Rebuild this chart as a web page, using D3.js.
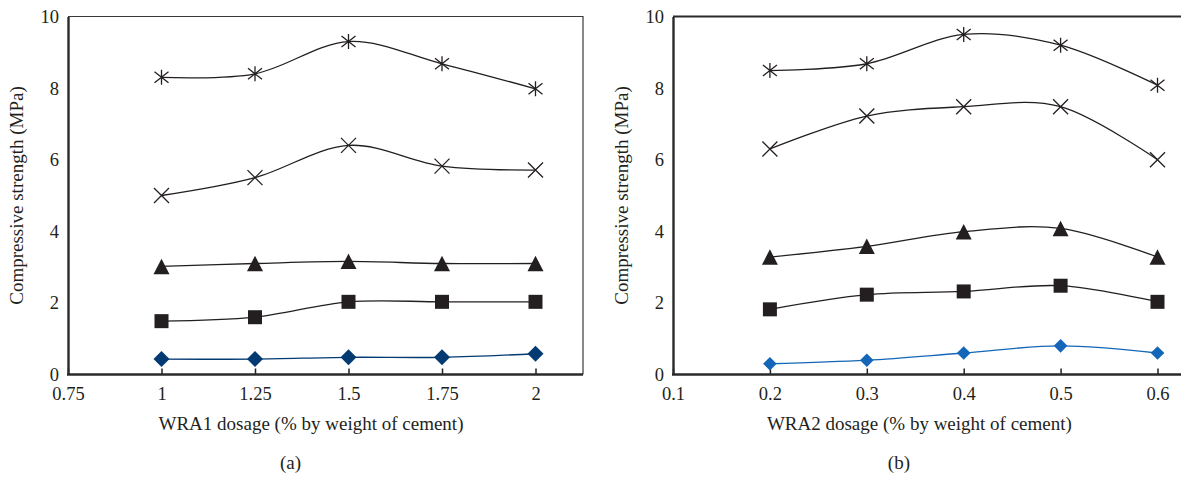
<!DOCTYPE html>
<html>
<head>
<meta charset="utf-8">
<script src="https://cdn.jsdelivr.net/npm/d3@7"></script>
<style>
  html, body { margin: 0; padding: 0; background: #fff; }
  svg text { font-family: "Liberation Serif", "Times New Roman", serif; fill: #231f20; }
</style>
</head>
<body>
<svg id="chart" width="1181" height="477"></svg>
<script>
// Dosage levels for each admixture
const dosageWRA1 = [1, 1.25, 1.5, 1.75, 2];
const dosageWRA2 = [0.2, 0.3, 0.4, 0.5, 0.6];

// Compressive strength (MPa), WRA1
const wra1Star     = [8.3, 8.4, 9.3, 8.68, 7.98];
const wra1Cross    = [5.0, 5.5, 6.4, 5.82, 5.71];
const wra1Triangle = [3.02, 3.1, 3.16, 3.1, 3.1];
const wra1Square   = [1.49, 1.6, 2.03, 2.03, 2.03];
const wra1Diamond  = [0.43, 0.43, 0.48, 0.48, 0.58];

// Compressive strength (MPa), WRA2
const wra2Star     = [8.49, 8.68, 9.5, 9.2, 8.08];
const wra2Cross    = [6.3, 7.22, 7.48, 7.48, 6.0];
const wra2Triangle = [3.28, 3.58, 3.99, 4.08, 3.28];
const wra2Square   = [1.82, 2.23, 2.32, 2.48, 2.03];
const wra2Diamond  = [0.3, 0.4, 0.6, 0.8, 0.6];

// Tick labels
const xTicksWRA1 = [0.75, 1, 1.25, 1.5, 1.75, 2];
const xTicksWRA2 = [0.1, 0.2, 0.3, 0.4, 0.5, 0.6];
const yTicks = [0, 2, 4, 6, 8, 10];

const svg = d3.select("#chart");
const ink = "#231f20";
const FONT = '"Liberation Serif", "Times New Roman", serif';

const panels = [
  {
    label: "(a)",
    xTitle: "WRA1 dosage (% by weight of cement)",
    xs: dosageWRA1,
    xDomain: [0.75, 2.127],
    xRange: [68, 583],
    xTicks: xTicksWRA1,
    yTitleX: 16,
    frame: "box",
    diamondR: 8,
    series: [
      { values: wra1Star, marker: "star", color: ink },
      { values: wra1Cross, marker: "cross", color: ink },
      { values: wra1Triangle, marker: "triangle", color: ink },
      { values: wra1Square, marker: "square", color: ink },
      { values: wra1Diamond, marker: "diamond", color: "#033a72" }
    ]
  },
  {
    label: "(b)",
    xTitle: "WRA2 dosage (% by weight of cement)",
    xs: dosageWRA2,
    xDomain: [0.1, 0.63],
    xRange: [673, 673 + 0.53 * 969],
    xTicks: xTicksWRA2,
    yTitleX: 621,
    frame: "top",
    diamondR: 6.8,
    series: [
      { values: wra2Star, marker: "star", color: ink },
      { values: wra2Cross, marker: "cross", color: ink },
      { values: wra2Triangle, marker: "triangle", color: ink },
      { values: wra2Square, marker: "square", color: ink },
      { values: wra2Diamond, marker: "diamond", color: "#1467b8" }
    ]
  }
];

const y = d3.scaleLinear().domain([0, 10]).range([374.5, 16.5]);

function drawMarker(g, kind, cx, cy, color, diamondR) {
  if (kind === "star") {
    const r = 7.5;
    const dx = 7, dy = 5.5;
    g.append("path")
      .attr("d", `M${cx},${cy - r}L${cx},${cy + r}M${cx - dx},${cy - dy}L${cx + dx},${cy + dy}M${cx - dx},${cy + dy}L${cx + dx},${cy - dy}`)
      .attr("stroke", color).attr("stroke-width", 1.3).attr("fill", "none");
  } else if (kind === "cross") {
    const r = 7.5;
    g.append("path")
      .attr("d", `M${cx - r},${cy - r}L${cx + r},${cy + r}M${cx - r},${cy + r}L${cx + r},${cy - r}`)
      .attr("stroke", color).attr("stroke-width", 1.3).attr("fill", "none");
  } else if (kind === "triangle") {
    const w = 8, h = 15.5;
    g.append("path")
      .attr("d", `M${cx},${cy - h / 2}L${cx + w},${cy + h / 2}L${cx - w},${cy + h / 2}Z`)
      .attr("fill", color);
  } else if (kind === "square") {
    const s = 14;
    g.append("rect")
      .attr("x", cx - s / 2).attr("y", cy - s / 2)
      .attr("width", s).attr("height", s)
      .attr("fill", color);
  } else if (kind === "diamond") {
    const r = diamondR;
    g.append("path")
      .attr("d", `M${cx},${cy - r}L${cx + r},${cy}L${cx},${cy + r}L${cx - r},${cy}Z`)
      .attr("fill", color);
  }
}

panels.forEach(p => {
  const x = d3.scaleLinear().domain(p.xDomain).range(p.xRange);
  const g = svg.append("g");

  // Frame lines
  if (p.frame === "box") {
    g.append("path")
      .attr("d", `M${p.xRange[0]},${y(10)}H${p.xRange[1]}V${y(0)}`)
      .attr("fill", "none").attr("stroke", "#3a3a3a").attr("stroke-width", 1.2);
  } else {
    g.append("line")
      .attr("x1", p.xRange[0]).attr("x2", p.xRange[1])
      .attr("y1", y(10)).attr("y2", y(10))
      .attr("stroke", "#2a2a2a").attr("stroke-width", 2);
  }

  // Smoothed series lines
  const line = d3.line()
    .x((d, i) => x(p.xs[i]))
    .y(d => y(d))
    .curve(d3.curveCardinal.tension(0));

  p.series.forEach(s => {
    g.append("path")
      .datum(s.values)
      .attr("d", line)
      .attr("fill", "none")
      .attr("stroke", s.color)
      .attr("stroke-width", 1.3);
  });

  // X axis with inward ticks
  const xAxis = d3.axisBottom(x)
    .tickValues(p.xTicks)
    .tickFormat(d => String(d))
    .tickSizeInner(-6)
    .tickSizeOuter(0)
    .tickPadding(12);
  const xg = g.append("g").attr("transform", `translate(0,${y(0)})`).call(xAxis);
  xg.select(".domain").remove();
  xg.selectAll(".tick line").attr("stroke", ink).attr("stroke-width", 1.5);
  xg.selectAll("text").attr("font-size", 18.5).attr("fill", ink).style("font-family", FONT);

  g.append("line")
    .attr("x1", p.xRange[0] - 1).attr("x2", p.xRange[1])
    .attr("y1", y(0)).attr("y2", y(0))
    .attr("stroke", "#2a2a2a").attr("stroke-width", 2.4);

  // Y axis
  const yAxis = d3.axisLeft(y)
    .tickValues(yTicks)
    .tickFormat(d3.format("d"))
    .tickSize(0)
    .tickPadding(9);
  const yg = g.append("g").attr("transform", `translate(${p.xRange[0]},0)`).call(yAxis);
  yg.select(".domain").attr("stroke", "#2a2a2a").attr("stroke-width", 2.4);
  yg.selectAll("text").attr("font-size", 18.5).attr("fill", ink).style("font-family", FONT);

  p.series.forEach(s => {
    s.values.forEach((v, i) => drawMarker(g, s.marker, x(p.xs[i]), y(v), s.color, p.diamondR));
  });

  // Axis titles and panel label
  g.append("text")
    .attr("transform", `translate(${p.yTitleX},${(y(0) + y(10)) / 2}) rotate(-90)`)
    .attr("text-anchor", "middle")
    .attr("dominant-baseline", "central")
    .attr("font-size", 19)
    .text("Compressive strength (MPa)");

  const titleStart = x(p.xs[0]) - 3;
  g.append("text")
    .attr("x", titleStart)
    .attr("y", 423)
    .attr("text-anchor", "start")
    .attr("dominant-baseline", "central")
    .attr("font-size", 19)
    .text(p.xTitle);

  g.append("text")
    .attr("x", titleStart + 132)
    .attr("y", 462)
    .attr("text-anchor", "middle")
    .attr("dominant-baseline", "central")
    .attr("font-size", 19)
    .text(p.label);
});
</script>
</body>
</html>
